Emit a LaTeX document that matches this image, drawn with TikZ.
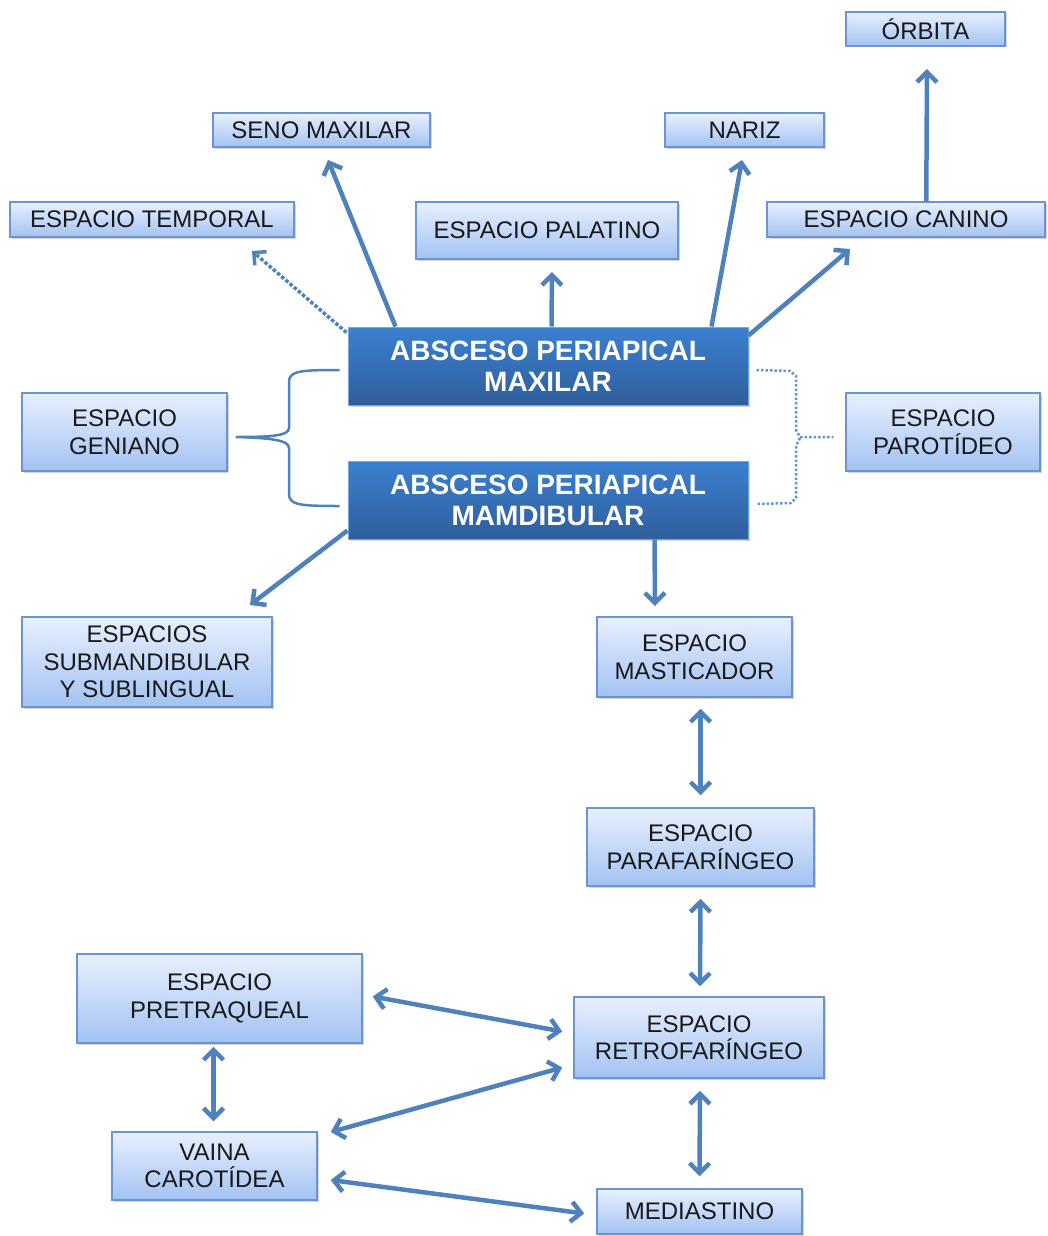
\documentclass[tikz,border=0pt]{standalone}
\usepackage{fontspec}
\setmainfont{Liberation Sans}
\usetikzlibrary{arrows.meta,calc,shadows}
\definecolor{arrblue}{HTML}{4F81BD}
\definecolor{boxtop}{HTML}{E8F0FF}
\definecolor{boxbot}{HTML}{A3C2F2}
\definecolor{boxline}{HTML}{6A95CF}
\definecolor{maintop}{HTML}{3C80D0}
\definecolor{mainbot}{HTML}{2F5E9C}
\tikzset{
  sbox/.style={draw=boxline, line width=1.5pt, top color=boxtop, bottom color=boxbot,
    inner sep=0pt, align=center, font=\fontsize{24}{27.5}\selectfont, text=black!90,
    drop shadow={shadow xshift=1.5pt, shadow yshift=-1.5pt, opacity=0.35}},
  mbox/.style={draw=maintop!70!white, line width=1pt, top color=maintop, bottom color=mainbot,
    inner sep=0pt, align=center, font=\fontsize{28}{31}\selectfont\bfseries, text=white,
    drop shadow={shadow xshift=1.5pt, shadow yshift=-1.5pt, opacity=0.35}},
  tip/.tip={Straight Barb[length=10pt,width=20pt]},
  arr/.style={draw=arrblue, line width=4.5pt, -tip},
  darr/.style={draw=arrblue, line width=4.5pt, tip-tip},
  dotarr/.style={draw=arrblue, line width=3.5pt, dotted, -{Straight Barb[length=9pt,width=18pt]}},
  dotline/.style={draw=arrblue!85, line width=2.5pt, dotted},
  brace/.style={draw=arrblue, line width=2.5pt},
}
\begin{document}
\begin{tikzpicture}[x=1pt,y=-1pt]
\useasboundingbox (0,0) rectangle (1047,1236);
% nodes
\node[sbox, minimum width=159pt, minimum height=34pt] (orbita) at (925.5,29) {ÓRBITA};
\node[sbox, minimum width=217pt, minimum height=34pt] (seno) at (321.5,130) {SENO MAXILAR};
\node[sbox, minimum width=159pt, minimum height=34pt] (nariz) at (744.5,130) {NARIZ};
\node[sbox, minimum width=284pt, minimum height=35pt] (temporal) at (152,219.5) {ESPACIO TEMPORAL};
\node[sbox, minimum width=262pt, minimum height=57pt] (palatino) at (547,230.5) {ESPACIO PALATINO};
\node[sbox, minimum width=278pt, minimum height=35pt] (canino) at (906,219.5) {ESPACIO CANINO};
\node[mbox, minimum width=400pt, minimum height=78pt] (maxilar) at (548,366) {ABSCESO PERIAPICAL\\MAXILAR};
\node[mbox, minimum width=400pt, minimum height=78pt] (mandib) at (548,500) {ABSCESO PERIAPICAL\\MAMDIBULAR};
\node[sbox, minimum width=205pt, minimum height=78pt] (geniano) at (124.5,432) {ESPACIO\\GENIANO};
\node[sbox, minimum width=194pt, minimum height=78pt] (parotideo) at (943,432) {ESPACIO\\PAROTÍDEO};
\node[sbox, minimum width=250pt, minimum height=90pt] (submand) at (147,662) {ESPACIOS\\SUBMANDIBULAR\\Y SUBLINGUAL};
\node[sbox, minimum width=195pt, minimum height=80pt] (mastic) at (694.5,657) {ESPACIO\\MASTICADOR};
\node[sbox, minimum width=227pt, minimum height=78pt] (parafar) at (700.5,847) {ESPACIO\\PARAFARÍNGEO};
\node[sbox, minimum width=285pt, minimum height=89pt] (pretraq) at (219.5,998.5) {ESPACIO\\PRETRAQUEAL};
\node[sbox, minimum width=250pt, minimum height=81pt] (retro) at (699,1037.5) {ESPACIO\\RETROFARÍNGEO};
\node[sbox, minimum width=205pt, minimum height=68pt] (vaina) at (214.5,1166) {VAINA\\CAROTÍDEA};
\node[sbox, minimum width=205pt, minimum height=45pt] (mediast) at (699.5,1211.5) {MEDIASTINO};

% arrow end coordinates
\coordinate (tTemp) at (252,251);
\coordinate (tSeno) at (328,160);
\coordinate (tPal) at (552,272);
\coordinate (tNar) at (742,160);
\coordinate (tCan) at (850,249);
\coordinate (tOrb) at (927,69);
\coordinate (tSub) at (250,605);
\coordinate (tMas) at (655,606);

% upward arrows from maxilar
\draw[dotarr] ($(maxilar.north west)+(-1,6)$) -- (tTemp);
\draw[arr] ($(maxilar.north west)+(48,0)$) -- (tSeno);
\draw[arr] ($(maxilar.north west)+(204,0)$) -- (tPal);
\draw[arr] ($(maxilar.north west)+(364,0)$) -- (tNar);
\draw[arr] ($(maxilar.north east)+(0,9)$) -- (tCan);
\draw[arr] ($(canino.north west)+(160,0)$) -- (tOrb);
% from mandibular
\draw[arr] ($(mandib.south west)+(0,-9)$) -- (tSub);
\draw[arr] ($(mandib.south west)+(307,0)$) -- (tMas);
% double arrows
\draw[darr] ($(mastic.south)+(6,11)$) -- ($(parafar.north)+(0,-12)$);
\draw[darr] ($(parafar.south)+(0,12)$) -- ($(retro.north)+(1,-10)$);
\draw[darr] ($(retro.south)+(1,12)$) -- ($(mediast.north)+(0,-12)$);
\draw[darr] ($(pretraq.south)+(-6,3)$) -- ($(vaina.north)+(-1,-10)$);
\draw[darr] ($(pretraq.east)+(10,-2)$) -- ($(retro.west)+(-11,-6)$);
\draw[darr] ($(retro.west)+(-11,30)$) -- ($(vaina.east)+(13,-34)$);
\draw[darr] ($(vaina.east)+(13,14)$) -- ($(mediast.west)+(-12,2)$);

% brace to geniano
\draw[brace] ($(maxilar.west)+(-8,4)$) .. controls (300,370) and (289,371) .. (289,382)
  -- (289,428) .. controls (289,436) and (270,437) .. ($(geniano.east)+(8,5)$)
  .. controls (270,438) and (289,440) .. (289,448)
  -- (289,494) .. controls (289,505) and (300,506) .. ($(mandib.west)+(-8,6)$);

% dotted bracket to parotideo
\draw[dotline] ($(maxilar.east)+(8,4)$) -- (790,371) -- (796,376) -- (796,430) -- (800,437) -- ($(parotideo.west)+(-12,5)$);
\draw[dotline] (800,438) -- (796,446) -- (796,498) -- (791,503) -- ($(mandib.east)+(8,4)$);
\end{tikzpicture}
\end{document}
